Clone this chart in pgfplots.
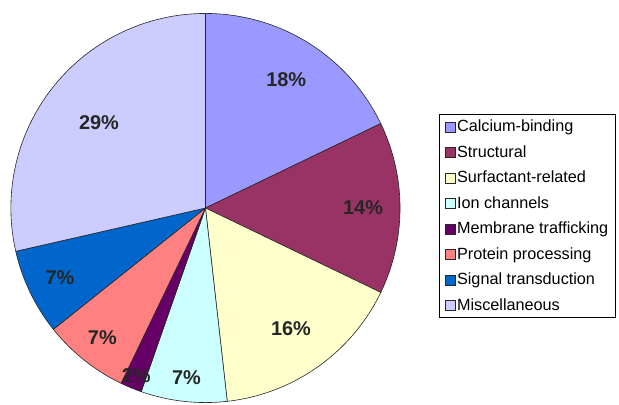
\documentclass[border=0pt]{standalone}
\usepackage{pgfplots}
\pgfplotsset{compat=1.18}
\usepackage{pgfplotstable}
\usepackage{fontspec}
\setmainfont{Liberation Sans}
\definecolor{c0}{HTML}{9999FF}
\definecolor{c1}{HTML}{993366}
\definecolor{c2}{HTML}{FFFFCC}
\definecolor{c3}{HTML}{CCFFFF}
\definecolor{c4}{HTML}{660066}
\definecolor{c5}{HTML}{FF8080}
\definecolor{c6}{HTML}{0066CC}
\definecolor{c7}{HTML}{CCCCFF}
\pgfplotstableread[col sep=comma]{
name,count,pct,labr,col
Calcium-binding,10,18,0.78,c0
Structural,8,14,0.81,c1
Surfactant-related,9,16,0.76,c2
Ion channels,4,7,0.875,c3
Membrane trafficking,1,2,0.93,c4
Protein processing,4,7,0.85,c5
Signal transduction,4,7,0.83,c6
Miscellaneous,16,29,0.70,c7
}\piedata
\begin{document}
\begin{tikzpicture}
\begin{axis}[
  scale only axis, width=619pt, height=405pt,
  xmin=-1.0409, xmax=2.1253, ymin=-1.0026, ymax=1.0691,
  hide axis, clip=false,
  legend image code/.code={\draw[#1] (0pt,-5pt) rectangle (10pt,5pt);},
  legend style={at={(rel axis cs:0.7076,0.716)}, anchor=north west,
    draw=black, line width=0.6pt, fill=white,
    font=\fontsize{16.3}{19}\selectfont, row sep=9.3pt,
    inner xsep=6pt, inner ysep=4pt,
    nodes={inner sep=1.5pt}},
  legend cell align=left,
]
\pgfmathsetmacro\total{0}
\pgfplotsforeachungrouped \i in {0,...,7}{%
  \pgfplotstablegetelem{\i}{count}\of\piedata
  \pgfmathsetmacro\total{\total+\pgfplotsretval}%
}
\pgfmathsetmacro\cum{0}
\pgfplotsforeachungrouped \i in {0,...,7}{%
  \pgfplotstablegetelem{\i}{count}\of\piedata \let\cnt\pgfplotsretval
  \pgfplotstablegetelem{\i}{col}\of\piedata \let\col\pgfplotsretval
  \pgfplotstablegetelem{\i}{name}\of\piedata \let\nm\pgfplotsretval
  \pgfmathsetmacro\sa{90-\cum*360/\total}%
  \pgfmathsetmacro\ea{\sa-\cnt*360/\total}%
  \pgfmathsetmacro\sx{cos(\sa)}%
  \pgfmathsetmacro\sy{sin(\sa)}%
  \pgfmathsetmacro\cum{\cum+\cnt}%
  \edef\temp{%
    \noexpand\filldraw[fill=\col, draw=black!85, line width=0.6pt]
      (axis cs:0,0) -- (axis cs:\sx,\sy) arc[start angle=\sa, end angle=\ea, radius=1] -- cycle;
    \noexpand\addlegendimage{fill=\col, draw=black!85, line width=0.5pt}
    \noexpand\addlegendentry{\nm}
  }\temp
}
\pgfmathsetmacro\cum{0}
\pgfplotsforeachungrouped \i in {0,...,7}{%
  \pgfplotstablegetelem{\i}{count}\of\piedata \let\cnt\pgfplotsretval
  \pgfplotstablegetelem{\i}{pct}\of\piedata \let\pct\pgfplotsretval
  \pgfplotstablegetelem{\i}{labr}\of\piedata \let\labr\pgfplotsretval
  \pgfmathsetmacro\sa{90-\cum*360/\total}%
  \pgfmathsetmacro\ea{\sa-\cnt*360/\total}%
  \pgfmathsetmacro\ma{(\sa+\ea)/2}%
  \pgfmathsetmacro\lx{\labr*cos(\ma)}%
  \pgfmathsetmacro\ly{\labr*sin(\ma)}%
  \pgfmathsetmacro\cum{\cum+\cnt}%
  \edef\temp{%
    \noexpand\node[font=\noexpand\bfseries\noexpand\fontsize{20}{24}\noexpand\selectfont, text=black!85] at (axis cs:\lx,\ly) {\pct\noexpand\%};
  }\temp
}
\path (rel axis cs:0,0) rectangle (rel axis cs:1,1);
\end{axis}
\end{tikzpicture}
\end{document}
